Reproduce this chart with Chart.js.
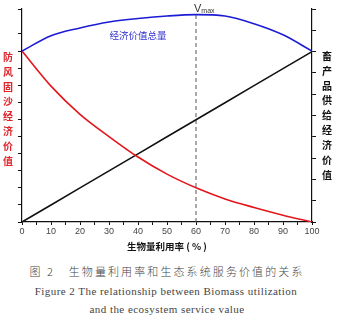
<!DOCTYPE html>
<html>
<head>
<meta charset="utf-8">
<script src="https://cdn.jsdelivr.net/npm/chart.js@4"></script>
<style>
body { margin: 0; background: #fff; width: 338px; height: 322px; overflow: hidden; position: relative; }
#wrap { position: absolute; left: 0; top: 0; width: 338px; height: 255px; }
.cap { position: absolute; left: 0; width: 338px; text-align: center; color: #444; white-space: nowrap; }
</style>
</head>
<body>
<div id="wrap"><canvas id="chart" width="338" height="255"></canvas></div>
<div class="cap" style="top:263px;left:-2px;font:300 11px 'Noto Sans CJK SC';letter-spacing:2.1px">图 2&nbsp;&nbsp;&nbsp;生物量利用率和生态系统服务价值的关系</div>
<div class="cap" style="top:285px;left:-3px;font:11px 'Liberation Serif';letter-spacing:0.45px">Figure 2 The relationship between Biomass utilization</div>
<div class="cap" style="top:303px;left:-2px;font:11px 'Liberation Serif';letter-spacing:0.45px">and the ecosystem service value</div>
<script>
const rates = [0, 10, 20, 30, 40, 50, 60, 70, 80, 90, 100];
const sandValue = [10, 7.95, 6.3, 5.0, 3.8, 2.8, 2.0, 1.35, 0.85, 0.4, 0];
const livestockValue = [0, 0.8, 1.6, 2.4, 3.2, 4.0, 4.8, 5.6, 6.4, 7.2, 8.0];
const totalValue = [10, 10.9, 11.35, 11.7, 11.9, 12.05, 12.13, 12.05, 11.6, 10.95, 10];
const vmaxAt = 60;
const vmaxLine = [0, 12.2];

const leftTitle = '防风固沙经济价值';
const rightTitle = '畜产品供给经济价值';
const totalLabel = '经济价值总量';
const xTitle = '生物量利用率 ( % )';

function points(ys) {
   return rates.map(function (r, i) { return { x: r, y: ys[i] }; });
}

const textPlugin = {
   id: 'texts',
   afterDraw: function (chart) {
      const ctx = chart.ctx;
      const xs = chart.scales.x;
      const yl = chart.scales.y;
      const area = chart.chartArea;
      ctx.save();

      // Vmax label
      const vx = xs.getPixelForValue(vmaxAt);
      ctx.fillStyle = '#333';
      ctx.textAlign = 'left';
      ctx.textBaseline = 'alphabetic';
      ctx.font = '11px "Liberation Sans"';
      ctx.fillText('V', vx - 2, 12);
      const vw = ctx.measureText('V').width;
      ctx.font = '7px "Liberation Sans"';
      ctx.fillText('max', vx - 2 + vw, 13);

      // total label
      ctx.fillStyle = '#2f2fd0';
      ctx.font = '9.5px "Noto Sans CJK SC"';
      ctx.textAlign = 'center';
      ctx.textBaseline = 'middle';
      ctx.fillText(totalLabel, xs.getPixelForValue(40), yl.getPixelForValue(10.9));

      // vertical axis titles
      ctx.font = 'bold 10px "Noto Sans CJK SC"';
      ctx.fillStyle = '#e0252b';
      for (var i = 0; i < leftTitle.length; i++) {
         ctx.fillText(leftTitle[i], area.left - 14, area.top + 48 + i * 14.9);
      }
      ctx.fillStyle = '#111';
      for (var j = 0; j < rightTitle.length; j++) {
         ctx.fillText(rightTitle[j], area.right + 15, area.top + 47 + j * 14.9);
      }
      ctx.restore();
   }
};

const config = {
   type: 'line',
   data: {
      datasets: [{
         label: 'Vmax',
         data: vmaxLine.map(function (v) { return { x: vmaxAt, y: v }; }),
         borderColor: '#555',
         borderWidth: 1,
         borderDash: [4, 3],
         pointRadius: 0,
         yAxisID: 'y',
         order: 4
      }, {
         label: totalLabel,
         data: points(totalValue),
         borderColor: '#1c1cd6',
         borderWidth: 1.6,
         pointRadius: 0,
         cubicInterpolationMode: 'monotone',
         yAxisID: 'y',
         order: 1
      }, {
         label: leftTitle,
         data: points(sandValue),
         borderColor: '#e3161c',
         borderWidth: 1.6,
         pointRadius: 0,
         cubicInterpolationMode: 'monotone',
         yAxisID: 'y',
         order: 2
      }, {
         label: rightTitle,
         data: points(livestockValue),
         borderColor: '#111',
         borderWidth: 1.6,
         pointRadius: 0,
         yAxisID: 'y2',
         order: 3
      }]
   },
   options: {
      responsive: false,
      animation: false,
      layout: { padding: { top: 9, left: 0, right: 0, bottom: 0 } },
      plugins: {
         legend: { display: false },
         tooltip: { enabled: false }
      },
      scales: {
         x: {
            type: 'linear',
            min: 0,
            max: 100,
            border: { color: '#111', width: 1.2 },
            grid: { drawOnChartArea: false, tickLength: 3, color: '#111' },
            ticks: {
               stepSize: 5,
               autoSkip: false,
               maxRotation: 0,
               padding: 1,
               color: '#444',
               font: { family: 'Liberation Sans', size: 9 },
               callback: function (value) {
                  return value % 10 === 0 ? value : '';
               }
            },
            title: {
               display: true,
               text: xTitle,
               color: '#111',
               font: { family: 'Noto Sans CJK SC', size: 9.5, weight: 'bold' },
               padding: { top: 0, bottom: 3 }
            },
            afterFit: function (scale) { scale.height = 33; }
         },
         y: {
            position: 'left',
            min: 0,
            max: 12.46,
            border: { color: '#111', width: 1.2 },
            grid: { drawOnChartArea: false, tickLength: 4, color: '#111' },
            ticks: { stepSize: 1, display: false },
            afterFit: function (scale) { scale.width = 22; }
         },
         y2: {
            position: 'right',
            min: 0,
            max: 10,
            border: { color: '#111', width: 1.2 },
            grid: { drawOnChartArea: false, tickLength: 4, color: '#111' },
            ticks: { stepSize: 1, display: false },
            afterFit: function (scale) { scale.width = 26; }
         }
      }
   },
   plugins: [textPlugin]
};

const myChart = new Chart(document.getElementById('chart'), config);
</script>
</body>
</html>
